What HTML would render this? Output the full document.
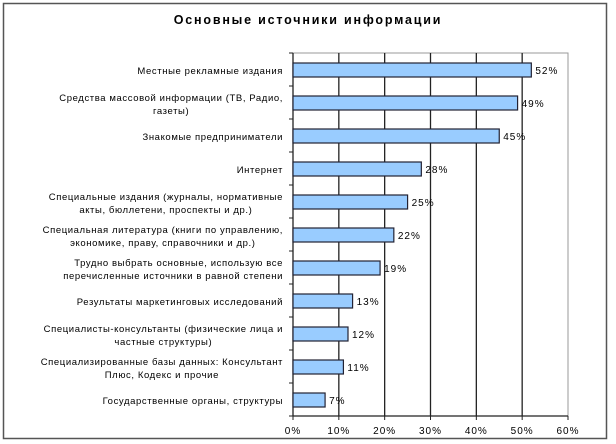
<!DOCTYPE html>
<html><head><meta charset="utf-8"><style>
body{margin:0;background:#fff;}
svg{display:block;font-family:"Liberation Sans",Arial,sans-serif;}
</style></head><body>
<svg id="chart" width="616" height="444" viewBox="0 0 616 444">
<rect x="3.5" y="3.5" width="603" height="435" fill="#fff" stroke="#555" stroke-width="1.5"/>
<text x="308" y="24" text-anchor="middle" font-size="12.5" font-weight="bold" letter-spacing="1.8">Основные источники информации</text>
<g id="grid"></g><g id="bars"></g><g id="labels"></g>
</svg>
<script>
const categories=[
["Местные рекламные издания"],
["Средства массовой информации (ТВ, Радио,","газеты)"],
["Знакомые предприниматели"],
["Интернет"],
["Специальные издания (журналы, нормативные","акты, бюллетени, проспекты и др.)"],
["Специальная литература (книги по управлению,","экономике, праву, справочники и др.)"],
["Трудно выбрать основные, использую все","перечисленные источники в равной   степени"],
["Результаты маркетинговых исследований"],
["Специалисты-консультанты (физические лица и","частные структуры)"],
["Специализированные базы данных: Консультант","Плюс, Кодекс и прочие"],
["Государственные органы, структуры"]];
const values=[52,49,45,28,25,22,19,13,12,11,7];
const ticks=[0,10,20,30,40,50,60];
const NS="http://www.w3.org/2000/svg";
const X0=293,X1=568,Y0=53,BAND=33,XMAX=60,LR=283;
const x=v=>X0+(X1-X0)*v/XMAX;
const y=i=>Y0+BAND*i;
const Y1=y(categories.length);
function mk(t,a,p){const e=document.createElementNS(NS,t);for(const k in a)e.setAttribute(k,a[k]);p.appendChild(e);return e;}
const g=document.getElementById('grid'),b=document.getElementById('bars'),l=document.getElementById('labels');
mk('rect',{x:X0,y:Y0,width:X1-X0,height:Y1-Y0,fill:'#fff',stroke:'#999','stroke-width':1},g);
ticks.forEach(t=>{
 if(t>0&&t<XMAX){const ln=mk('line',{x1:x(t),x2:x(t),y1:Y0,y2:Y1,stroke:'#222','stroke-width':1.3},g);
 
 }
 const tx=mk('text',{x:x(t),y:Y1+18,'text-anchor':'middle','font-size':10,'letter-spacing':1},l);
 tx.textContent=t+'%';
 
 
});
mk('line',{x1:X0,x2:X0,y1:Y0,y2:Y1,stroke:'#222','stroke-width':1.3},g);
mk('line',{x1:X0,x2:X1,y1:Y1,y2:Y1,stroke:'#222','stroke-width':1.3},g);
for(let i=0;i<=categories.length;i++)mk('line',{x1:X0-4,x2:X0,y1:y(i),y2:y(i),stroke:'#222'},g);
for(let t=0;t<=XMAX;t+=10)mk('line',{x1:x(t),x2:x(t),y1:Y1,y2:Y1+4,stroke:'#222'},g);
values.forEach((v,i)=>{
 const cy=y(i)+BAND/2+0.5;
 const r=mk('rect',{x:X0,y:cy-7,width:x(v)-X0,height:14,fill:'#99ccff',stroke:'#223',"stroke-width":1.2},b);
 
 
 const vt=mk('text',{x:x(v)+4,y:cy+4,'font-size':10,'letter-spacing':1},l);
 vt.textContent=v+'%';
 
 
 const lines=categories[i];
 let firstW=0;
 lines.forEach((s,k)=>{
  const off=lines.length===1?0:(k===0?-6:7);
  const tt=mk('text',{x:LR,y:cy+4+off,'text-anchor':'end','font-size':9.5,'letter-spacing':0.6,'xml:space':'preserve'},l);
  tt.textContent=s;
  
  
  if(k===0){firstW=tt.getComputedTextLength();}
  else{
   const w=tt.getComputedTextLength();
   let end=LR-firstW/2+w/2;
   if(end>LR)end=LR;
   tt.setAttribute('x',end);
  }
 });
});
</script>
</body></html>
